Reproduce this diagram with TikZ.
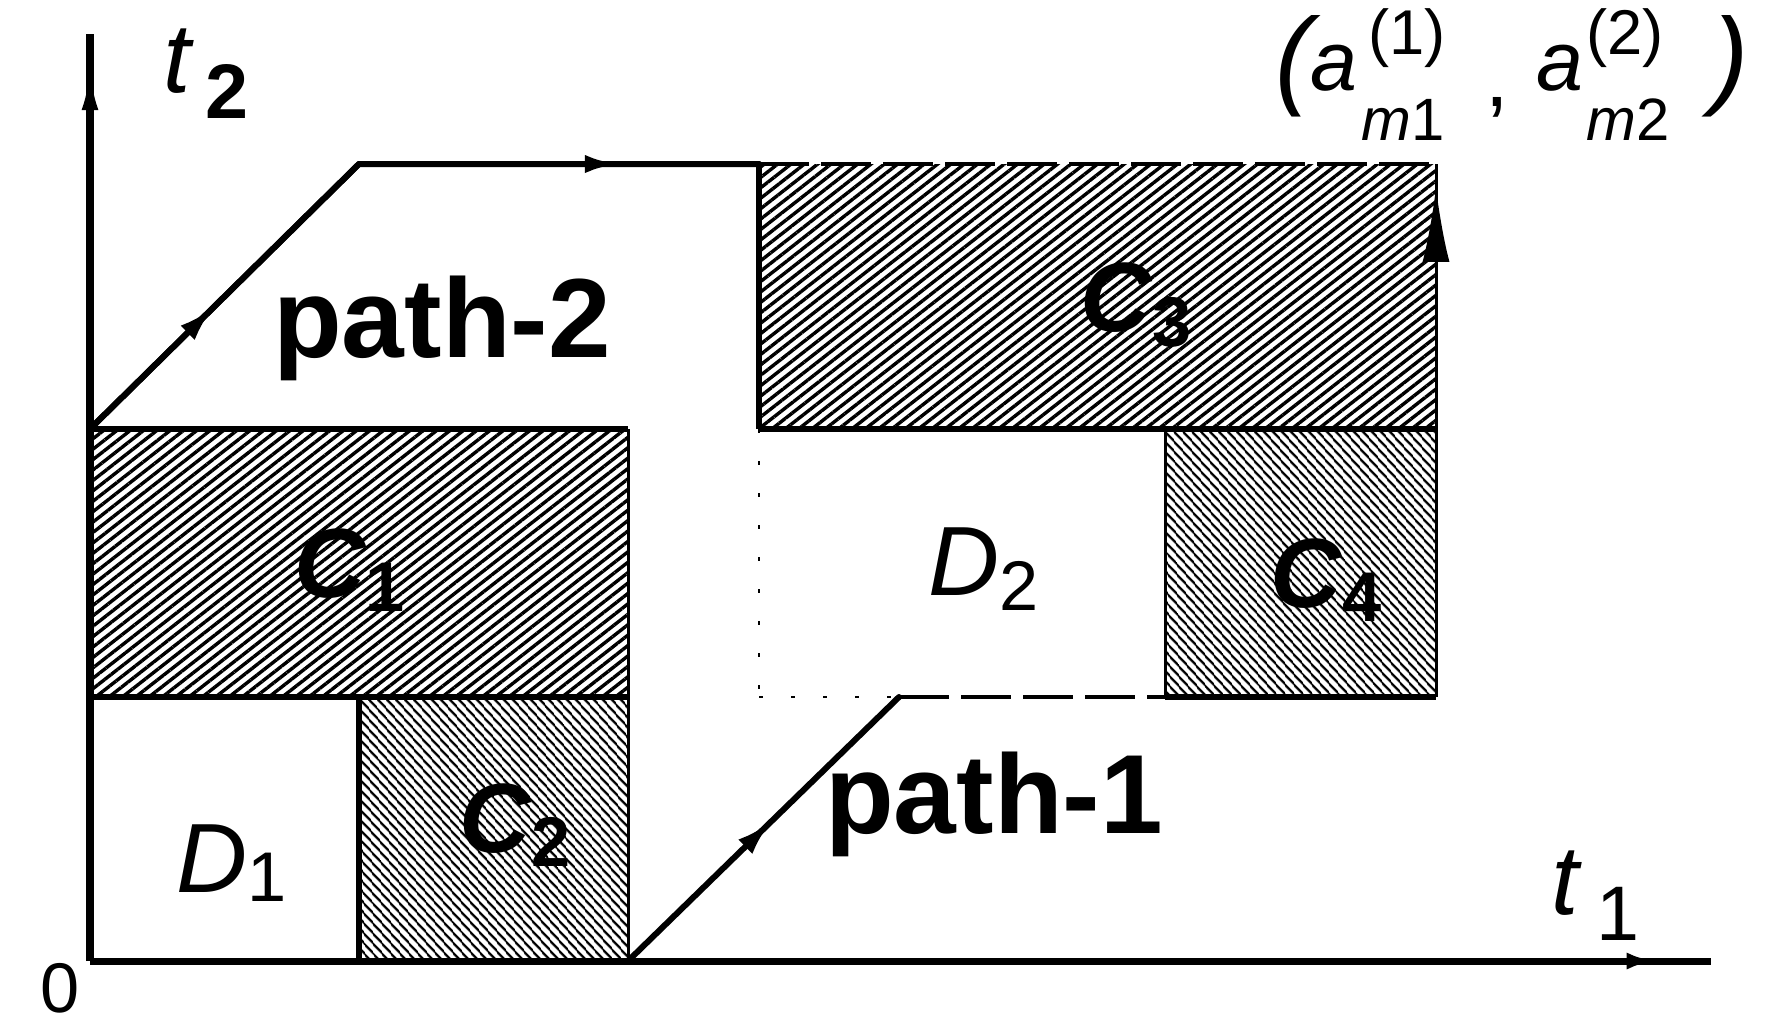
\documentclass[tikz,border=0pt]{standalone}
\usepackage{fontspec}
\setmainfont{Liberation Sans}
\usetikzlibrary{patterns.meta,decorations.markings,arrows.meta}
\begin{document}
\begin{tikzpicture}[x=0.01cm,y=-0.01cm,
  axisline/.style={line width=0.07cm},
  edge/.style={line width=0.06cm},
  thinedge/.style={line width=0.03cm},
  pth/.style={line width=0.06cm,line cap=round,line join=round},
  dotedge/.style={line width=0.025cm,dash pattern=on 0.04cm off 0.28cm},
  dashedge/.style={line width=0.04cm,dash pattern=on 0.5cm off 0.12cm},
  hatchA/.style={pattern={Lines[angle=38,distance=0.082cm,line width=0.034cm]}},
  hatchB/.style={pattern={Lines[angle=-48,distance=0.072cm,line width=0.027cm]}},
  marr/.style n args={3}{postaction={decorate,decoration={markings,
      mark=at position #1 with {\arrow{Latex[length=#2,width=#3]}}}}},
  lbl/.style={inner sep=0pt,anchor=base west},
  clbl/.style={inner sep=0pt,anchor=center}]
\useasboundingbox (0,0) rectangle (1769,1032);
% coordinates
\coordinate (O) at (90,961);
\coordinate (Ytop) at (90,34);
\coordinate (Xend) at (1711,961);
\coordinate (P2a) at (90,429);
\coordinate (P2b) at (359,164);
\coordinate (P2c) at (759,164);
\coordinate (G) at (1436,164);
\coordinate (P1a) at (628,961);
\coordinate (P1b) at (899,697);
\coordinate (P1c) at (1165,697);
\coordinate (P1d) at (1436,697);
% hatched regions
\path[hatchA] (90,429) rectangle (628,697);
\path[hatchA] (759,164) rectangle (1436,429);
\path[hatchB] (359,697) rectangle (628,961);
\path[hatchB] (1165,429) rectangle (1436,697);
% region borders
\draw[edge] (P2a) -- (628,429);
\draw[edge] (90,697) -- (628,697);
\draw[thinedge] (628,429) -- (P1a);
\draw[edge] (359,697) -- (359,961);
\draw[edge] (P2c) -- (759,429);
\draw[edge] (759,429) -- (1436,429);
\draw[dashedge] (P2c) -- (G);
\draw[thinedge] (1165,429) -- (P1c);
\draw[dotedge] (759,429) -- (759,697);
\draw[dotedge] (759,697) -- (P1b);
\draw[dashedge] (P1b) -- (P1c);
\draw[edge] (P1c) -- (P1d);
% axes
\draw[axisline,marr={0.972}{0.5cm}{0.16cm}] (O) -- (Ytop);
\draw[axisline,marr={0.969}{0.34cm}{0.16cm}] (O) -- (Xend);
% path-2
\draw[pth] (P2a) -- (P2b) -- (P2c);
\draw[pth,marr={0.46}{0.36cm}{0.2cm}] (P2a) -- (P2b);
\draw[pth,marr={0.65}{0.34cm}{0.18cm}] (P2b) -- (P2c);
% path-1
\draw[pth,marr={0.53}{0.36cm}{0.2cm}] (P1a) -- (P1b);
\draw[thinedge,marr={0.957}{0.75cm}{0.27cm}] (P1d) -- (G);
% labels
\node[lbl] (t2) at (163,92) {\fontsize{28}{30}\selectfont\itshape t\hspace{4pt}\raisebox{-7.4pt}{\upshape\fontsize{22}{24}\selectfont\bfseries 2}};
\node[lbl] (t1) at (1551,914) {\fontsize{28}{30}\selectfont\itshape t\hspace{5pt}\raisebox{-7.4pt}{\upshape\fontsize{22}{24}\selectfont 1}};
\node[lbl] (zero) at (40,1012) {\fontsize{20}{22}\selectfont 0};
\node[lbl] (d1) at (176,892) {\fontsize{28}{30}\selectfont\itshape D\raisebox{-2.8pt}{\upshape\fontsize{20}{22}\selectfont 1}};
\node[lbl] (d2) at (928,595) {\fontsize{28}{30}\selectfont\itshape D\raisebox{-4.3pt}{\upshape\fontsize{20}{22}\selectfont 2}};
\node[clbl] (c1) at (350,570) {\fontsize{28}{30}\selectfont\bfseries\itshape C\raisebox{-4pt}{\upshape\fontsize{20}{22}\selectfont 1}};
\node[clbl] (c2) at (515,825) {\fontsize{28}{30}\selectfont\bfseries\itshape C\raisebox{-4pt}{\upshape\fontsize{20}{22}\selectfont 2}};
\node[clbl] (c3) at (1136,305) {\fontsize{28}{30}\selectfont\bfseries\itshape C\raisebox{-4pt}{\upshape\fontsize{20}{22}\selectfont 3}};
\node[clbl] (c4) at (1326,580) {\fontsize{28}{30}\selectfont\bfseries\itshape C\raisebox{-4pt}{\upshape\fontsize{20}{22}\selectfont 4}};
\node[anchor=base,inner sep=0pt] (p2) at (442,357) {\fontsize{32}{34}\selectfont\bfseries path-2};
\node[anchor=base,inner sep=0pt] (p1) at (994,833) {\fontsize{32}{34}\selectfont\bfseries path-1};
% goal coordinate label
\node[lbl] (lp) at (1275,94) {\fontsize{31}{33}\selectfont\itshape (};
\node[lbl] (a1) at (1310,90) {\fontsize{24}{26}\selectfont\itshape a};
\node[lbl] (s1) at (1368,54) {\fontsize{18}{20}\selectfont (1)};
\node[lbl] (b1) at (1361,140) {\fontsize{17}{19}\selectfont\itshape m\upshape 1};
\node[lbl] (cm) at (1485,106) {\fontsize{24}{26}\selectfont ,};
\node[lbl] (a2) at (1536,90) {\fontsize{24}{26}\selectfont\itshape a};
\node[lbl] (s2) at (1586,54) {\fontsize{18}{20}\selectfont (2)};
\node[lbl] (b2) at (1586,140) {\fontsize{17}{19}\selectfont\itshape m\upshape 2};
\node[lbl] (rp) at (1712,94) {\fontsize{31}{33}\selectfont\itshape )};
\end{tikzpicture}
\end{document}
